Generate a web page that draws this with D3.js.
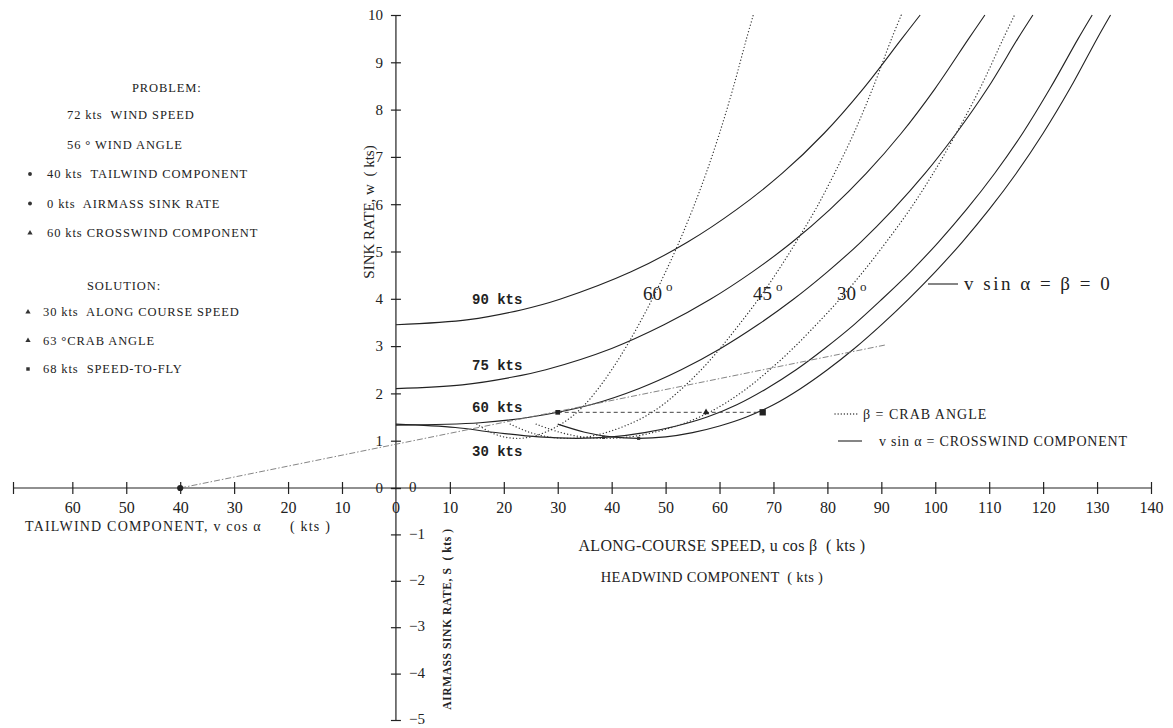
<!DOCTYPE html>
<html>
<head>
<meta charset="utf-8">
<script src="https://cdn.jsdelivr.net/npm/d3@7"></script>
<style>
  body { margin: 0; background: #fff; }
  svg { display: block; }
  text { font-family: "Liberation Serif", "DejaVu Serif", serif; fill: #222; }
  .axis path, .axis line { stroke: #222; stroke-width: 1.2; }
  .mono { font-family: "Liberation Mono", "DejaVu Sans Mono", monospace; }
</style>
</head>
<body>
<div id="chart"></div>
<script>
// crosswind component curves: [along-course speed (kts), sink rate w (kts)]
const cross90 = [[0,3.45],[13.5,3.56],[23.4,3.77],[30.4,3.99],[43.6,4.57],[54.1,5.2],[63.2,5.89],[71.6,6.65],[79.4,7.5],[86.7,8.45],[93.8,9.5],[97.2,10]];
const cross75 = [[0,2.1],[12.3,2.18],[21.4,2.34],[27.8,2.5],[40,2.95],[49.7,3.45],[58.3,3.99],[66.1,4.57],[73.5,5.2],[80.5,5.89],[87.2,6.65],[93.7,7.5],[100,8.45],[106.2,9.5],[109.2,10]];
const cross60 = [[0,1.33],[15.6,1.38],[25,1.5],[36.1,1.76],[45,2.1],[52.9,2.5],[60.2,2.95],[67.1,3.45],[73.7,3.99],[80,4.57],[86.2,5.2],[92.2,5.89],[98.1,6.65],[103.9,7.5],[109.7,8.45],[115.3,9.5],[118.1,10]];
const cross30 = [[0,1.35],[11,1.28],[18,1.18],[26.5,1.08],[33.5,1.05],[40,1.08],[46.1,1.17],[52,1.31],[57.7,1.5],[63.2,1.76],[68.7,2.1],[74.2,2.5],[79.5,2.95],[84.9,3.45],[90.1,3.99],[95.4,4.57],[100.6,5.2],[105.8,5.89],[111,6.65],[116.2,7.5],[121.3,8.45],[126.5,9.5],[129.1,10]];
const cross0 = [[30,1.35],[35,1.18],[40,1.08],[45,1.05],[50,1.08],[55,1.17],[60,1.31],[65,1.5],[70,1.76],[75,2.1],[80,2.5],[85,2.95],[90,3.45],[95,3.99],[100,4.57],[105,5.2],[110,5.89],[115,6.65],[120,7.5],[125,8.45],[130,9.5],[132.5,10]];

// crab angle curves (dotted)
const crab60 = [[15,1.35],[17.5,1.18],[20,1.08],[22.5,1.05],[25,1.08],[27.5,1.17],[30,1.31],[32.5,1.5],[35,1.76],[37.5,2.1],[40,2.5],[42.5,2.95],[45,3.45],[47.5,3.99],[50,4.57],[52.5,5.2],[55,5.89],[57.5,6.65],[60,7.5],[62.5,8.45],[65,9.5],[66.25,10]];
const crab45 = [[21.2,1.35],[24.7,1.18],[28.3,1.08],[31.8,1.05],[35.4,1.08],[38.9,1.17],[42.4,1.31],[46,1.5],[49.5,1.76],[53,2.1],[56.6,2.5],[60.1,2.95],[63.6,3.45],[67.2,3.99],[70.7,4.57],[74.2,5.2],[77.8,5.89],[81.3,6.65],[84.9,7.5],[88.4,8.45],[91.9,9.5],[93.7,10]];
const crab30 = [[26,1.35],[30.3,1.18],[34.6,1.08],[39,1.05],[43.3,1.08],[47.6,1.17],[52,1.31],[56.3,1.5],[60.6,1.76],[65,2.1],[69.3,2.5],[73.6,2.95],[77.9,3.45],[82.3,3.99],[86.6,4.57],[90.9,5.2],[95.3,5.89],[99.6,6.65],[103.9,7.5],[108.3,8.45],[112.6,9.5],[114.7,10]];

// solution construction
const tangentLine = [[-40,0],[91,3.03]];
const speedLine = [[30,1.6],[68,1.6]];
const tailwindPoint = [-40, 0];
const alongPoint = [30, 1.6];
const crabPoint = [57.5, 1.6];
const speedToFly = [68, 1.6];
const minPoints = [[38.5,1.07],[45,1.05]];

// tick values
const xTicksTail = [-60,-50,-40,-30,-20,-10];
const xTicksHead = [10,20,30,40,50,60,70,80,90,100,110,120,130,140];
const yTicksUp = [0,1,2,3,4,5,6,7,8,9,10];
const yTicksDown = [0,-1,-2,-3,-4,-5];

const problemLines = [
  {sym: null, text: "72 kts  WIND SPEED"},
  {sym: null, text: "56 \u00B0 WIND ANGLE"},
  {sym: "circle", text: "40 kts  TAILWIND COMPONENT"},
  {sym: "circle", text: "0 kts  AIRMASS SINK RATE"},
  {sym: "triangle", text: "60 kts CROSSWIND COMPONENT"}
];
const solutionLines = [
  {sym: "triangle", text: "30 kts  ALONG COURSE SPEED"},
  {sym: "triangle", text: "63 \u00B0CRAB ANGLE"},
  {sym: "square", text: "68 kts  SPEED-TO-FLY"}
];

const width = 1173, height = 728;
const svg = d3.select("#chart").append("svg")
  .attr("width", width)
  .attr("height", height);

const x = d3.scaleLinear().domain([-71, 140]).range([13, 1151]);
const y = d3.scaleLinear().domain([0, 10]).range([488, 15]);
const yDown = d3.scaleLinear().domain([-5, 0]).range([720, 488]);

// horizontal axis
const xAxisG = svg.append("g").attr("class", "axis")
  .attr("transform", `translate(0,${y(0)})`);
xAxisG.append("line")
  .attr("x1", x(-71)).attr("x2", x(140))
  .attr("stroke", "#222").attr("stroke-width", 1.2);
xAxisG.call(d3.axisBottom(x).tickValues(xTicksTail.concat([-71], xTicksHead))
    .tickSizeOuter(0).tickFormat(d => d === -71 ? "" : Math.abs(d)))
  .call(g => g.select(".domain").remove());
xAxisG.selectAll(".tick line").attr("y1", -6).attr("y2", 6);
xAxisG.selectAll(".tick text").attr("y", 14).attr("font-size", 16)
  .attr("font-family", "Liberation Serif").attr("fill", "#222");

// vertical axes: sink rate above, airmass sink rate below
const yAxisG = svg.append("g").attr("class", "axis")
  .attr("transform", `translate(${x(0)},0)`);
yAxisG.append("line")
  .attr("y1", yDown(-5)).attr("y2", y(10))
  .attr("stroke", "#222").attr("stroke-width", 1.2);
yAxisG.call(d3.axisLeft(y).tickValues(yTicksUp).tickSize(5).tickPadding(8))
  .call(g => g.select(".domain").remove());
yAxisG.selectAll(".tick line").attr("x1", -5).attr("x2", 5);
yAxisG.selectAll(".tick text").attr("font-size", 15)
  .attr("font-family", "Liberation Serif").attr("fill", "#333");

const yDownG = svg.append("g").attr("class", "axis")
  .attr("transform", `translate(${x(0)},0)`);
yDownG.call(d3.axisRight(yDown).tickValues(yTicksDown).tickSize(5).tickPadding(8)
    .tickFormat(d => d === 0 ? "0" : "\u2212" + Math.abs(d)))
  .call(g => g.select(".domain").remove());
yDownG.selectAll(".tick line").attr("x1", -5).attr("x2", 5);
yDownG.selectAll(".tick text").attr("font-size", 15).attr("dy", "0.25em")
  .attr("font-family", "Liberation Serif").attr("fill", "#333");

// the "0" of the along-course axis, sitting on the vertical axis
svg.append("text").attr("x", x(0)).attr("y", y(0) + 25)
  .attr("text-anchor", "middle").attr("font-size", 16).text("0");

// curves
const line = d3.line()
  .x(d => x(d[0]))
  .y(d => y(d[1]))
  .curve(d3.curveCatmullRom.alpha(0.5));

const plot = svg.append("g");
[cross90, cross75, cross60, cross30, cross0].forEach(c => {
  plot.append("path").attr("d", line(c))
    .attr("fill", "none").attr("stroke", "#222").attr("stroke-width", 1.1);
});
[crab60, crab45, crab30].forEach(c => {
  plot.append("path").attr("d", line(c))
    .attr("fill", "none").attr("stroke", "#333").attr("stroke-width", 1.3)
    .attr("stroke-dasharray", "0.1,3.2").attr("stroke-linecap", "round");
});

const straight = d3.line().x(d => x(d[0])).y(d => y(d[1]));
plot.append("path").attr("d", straight(tangentLine))
  .attr("fill", "none").attr("stroke", "#777").attr("stroke-width", 0.9)
  .attr("stroke-dasharray", "6,2,1.5,2");
plot.append("path").attr("d", straight(speedLine))
  .attr("fill", "none").attr("stroke", "#444").attr("stroke-width", 1)
  .attr("stroke-dasharray", "4,3");

// markers
const sym = (type, size) => d3.symbol().type(type).size(size)();
plot.append("path").attr("d", sym(d3.symbolCircle, 30))
  .attr("transform", `translate(${x(tailwindPoint[0])},${y(tailwindPoint[1])})`).attr("fill", "#222");
plot.append("path").attr("d", sym(d3.symbolSquare, 22))
  .attr("transform", `translate(${x(alongPoint[0])},${y(alongPoint[1])})`).attr("fill", "#222");
plot.append("path").attr("d", sym(d3.symbolTriangle, 18))
  .attr("transform", `translate(${x(crabPoint[0])},${y(crabPoint[1])})`).attr("fill", "#222");
plot.append("path").attr("d", sym(d3.symbolSquare, 40))
  .attr("transform", `translate(${x(speedToFly[0])},${y(speedToFly[1])})`).attr("fill", "#222");
minPoints.forEach(p => {
  plot.append("path").attr("d", sym(d3.symbolSquare, 10))
    .attr("transform", `translate(${x(p[0])},${y(p[1])})`).attr("fill", "#333");
});

// curve labels
const curveLabels = [
  {t: "90 kts", yy: 304}, {t: "75 kts", yy: 370}, {t: "60 kts", yy: 412}, {t: "30 kts", yy: 456}
];
svg.selectAll(".clabel").data(curveLabels).enter().append("text")
  .attr("class", "mono").attr("x", 472).attr("y", d => d.yy)
  .attr("font-size", 14).attr("font-weight", "bold").attr("fill", "#333")
  .text(d => d.t);

const crabLabels = [{t: "60", xx: 643}, {t: "45", xx: 753}, {t: "30", xx: 837}];
crabLabels.forEach(d => {
  const t = svg.append("text").attr("x", d.xx).attr("y", 300).attr("font-size", 19).attr("fill", "#333");
  t.append("tspan").text(d.t);
  t.append("tspan").attr("dx", 4).attr("dy", -9).attr("font-size", 13).text("o");
});

// zero curve label
svg.append("line").attr("x1", 928).attr("x2", 958).attr("y1", 284).attr("y2", 284)
  .attr("stroke", "#222").attr("stroke-width", 1.1);
svg.append("text").attr("x", 964).attr("y", 290).attr("font-size", 19)
  .attr("letter-spacing", 2.5).text("v sin \u03B1 = \u03B2 = 0");

// legend
svg.append("line").attr("x1", 835).attr("x2", 858).attr("y1", 414).attr("y2", 414)
  .attr("stroke", "#333").attr("stroke-width", 1.3)
  .attr("stroke-dasharray", "0.1,3").attr("stroke-linecap", "round");
svg.append("text").attr("x", 863).attr("y", 419).attr("font-size", 14)
  .attr("letter-spacing", 1).text("\u03B2 = CRAB ANGLE");
svg.append("line").attr("x1", 838).attr("x2", 862).attr("y1", 441).attr("y2", 441)
  .attr("stroke", "#222").attr("stroke-width", 1.1);
svg.append("text").attr("x", 879).attr("y", 446).attr("font-size", 14)
  .attr("letter-spacing", 0.8).text("v sin \u03B1 = CROSSWIND COMPONENT");

// axis titles
svg.append("text").attr("x", 25).attr("y", 531).attr("font-size", 14)
  .attr("letter-spacing", 1.2).attr("xml:space", "preserve")
  .text("TAILWIND COMPONENT, v cos \u03B1");
svg.append("text").attr("x", 290).attr("y", 531).attr("font-size", 14)
  .attr("letter-spacing", 1.2).attr("xml:space", "preserve")
  .text("( kts )");
svg.append("text").attr("x", 722).attr("y", 551).attr("text-anchor", "middle")
  .attr("font-size", 16).attr("letter-spacing", 0.3)
  .attr("xml:space", "preserve").text("ALONG-COURSE SPEED, u cos \u03B2  ( kts )");
svg.append("text").attr("x", 712).attr("y", 582).attr("text-anchor", "middle")
  .attr("font-size", 14.5).attr("letter-spacing", 0.3)
  .attr("xml:space", "preserve").text("HEADWIND COMPONENT  ( kts )");
svg.append("text").attr("transform", "translate(374,212) rotate(-90)")
  .attr("text-anchor", "middle").attr("font-size", 15)
  .attr("xml:space", "preserve").text("SINK RATE, w  ( kts)");
svg.append("text").attr("transform", "translate(451,619) rotate(-90)")
  .attr("text-anchor", "middle").attr("font-size", 11.5).attr("font-weight", "bold")
  .attr("letter-spacing", 0.6)
  .attr("xml:space", "preserve").text("AIRMASS SINK RATE, S  ( kts )");

// problem / solution text block
const info = svg.append("g").attr("font-size", 12.5).attr("letter-spacing", 0.9);
info.append("text").attr("x", 132).attr("y", 92).text("PROBLEM:");
problemLines.forEach((d, i) => {
  const yy = 119 + i * 29.5;
  const xx = d.sym ? 47 : 67;
  info.append("text").attr("x", xx).attr("y", yy).attr("xml:space", "preserve").text(d.text);
  if (d.sym) {
    const ty = d.sym === "circle" ? d3.symbolCircle : d3.symbolTriangle;
    info.append("path").attr("d", sym(ty, 12))
      .attr("transform", `translate(${xx - 17},${yy - 4})`).attr("fill", "#333");
  }
});
info.append("text").attr("x", 87).attr("y", 290).text("SOLUTION:");
solutionLines.forEach((d, i) => {
  const yy = 316 + i * 28.5;
  info.append("text").attr("x", 43).attr("y", yy).attr("xml:space", "preserve").text(d.text);
  const ty = d.sym === "square" ? d3.symbolSquare : d3.symbolTriangle;
  info.append("path").attr("d", sym(ty, 12))
    .attr("transform", `translate(28,${yy - 4})`).attr("fill", "#333");
});
</script>
</body>
</html>
